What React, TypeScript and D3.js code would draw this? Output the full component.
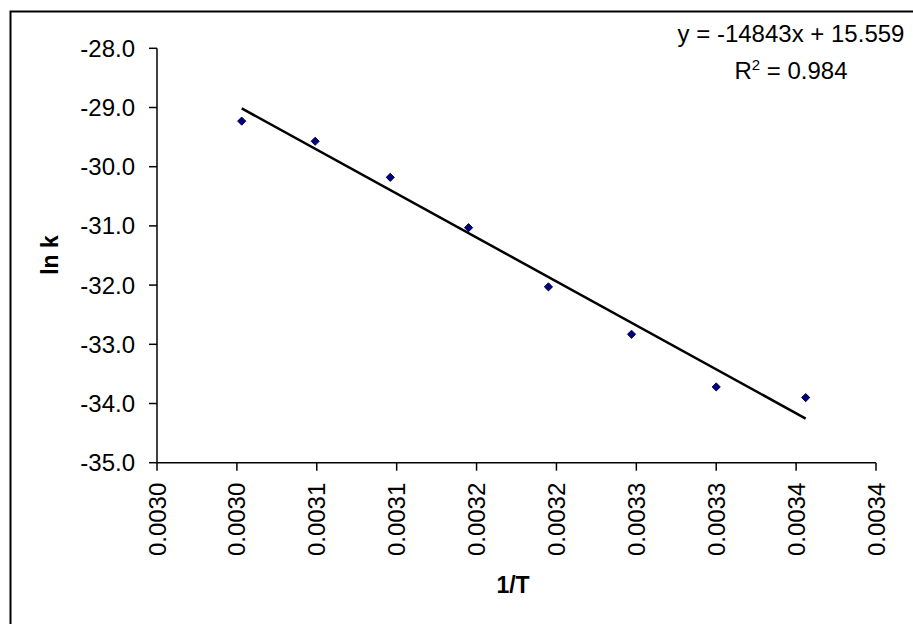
import React, { useRef, useEffect } from "react";
import * as d3 from "d3";

// 1/T (K^-1) and ln k readings
const invT = [0.003003, 0.003049, 0.003096, 0.003145, 0.003195, 0.003247, 0.0033, 0.003356];
const lnK = [-29.23, -29.57, -30.18, -31.03, -32.03, -32.83, -33.72, -33.9];

const xTicks = [0.00295, 0.003, 0.00305, 0.0031, 0.00315, 0.0032, 0.00325, 0.0033, 0.00335, 0.0034];
const xTickLabels = ["0.0030", "0.0030", "0.0031", "0.0031", "0.0032", "0.0032", "0.0033", "0.0033", "0.0034", "0.0034"];
const yTicks = [-28, -29, -30, -31, -32, -33, -34, -35];

const slope = -14843;
const intercept = 15.559;
const rSquared = "0.984";

const FONT = "'Liberation Sans', Arial, sans-serif";

export default function App() {
  const ref = useRef<SVGSVGElement>(null);

  useEffect(() => {
    const svg = d3.select(ref.current);
    svg.selectAll("*").remove();

    const x = d3.scaleLinear().domain([0.00295, 0.0034]).range([157, 876]);
    const y = d3.scaleLinear().domain([-35, -28]).range([462.7, 48.3]);

    // chart area border (runs off the right / bottom edge)
    svg.append("rect")
      .attr("x", 10.5).attr("y", 11.5)
      .attr("width", 930).attr("height", 640)
      .attr("fill", "#fff")
      .attr("stroke", "#000")
      .attr("stroke-width", 2);

    // y axis
    const gy = svg.append("g");
    gy.append("line")
      .attr("x1", x(0.00295)).attr("x2", x(0.00295))
      .attr("y1", y(-28)).attr("y2", y(-35))
      .attr("stroke", "#000").attr("stroke-width", 1.5);
    gy.selectAll("line.tick")
      .data(yTicks)
      .enter()
      .append("line")
      .attr("class", "tick")
      .attr("x1", x(0.00295) - 8).attr("x2", x(0.00295))
      .attr("y1", d => y(d)).attr("y2", d => y(d))
      .attr("stroke", "#000").attr("stroke-width", 1.5);
    gy.selectAll("text")
      .data(yTicks)
      .enter()
      .append("text")
      .attr("x", x(0.00295) - 22)
      .attr("y", d => y(d))
      .attr("text-anchor", "end")
      .attr("dominant-baseline", "central")
      .style("font-family", FONT)
      .style("font-size", "24px")
      .text(d => d.toFixed(1));

    // x axis
    const gx = svg.append("g");
    gx.append("line")
      .attr("x1", x(0.00295)).attr("x2", x(0.0034))
      .attr("y1", y(-35)).attr("y2", y(-35))
      .attr("stroke", "#000").attr("stroke-width", 1.5);
    gx.selectAll("line.tick")
      .data(xTicks)
      .enter()
      .append("line")
      .attr("class", "tick")
      .attr("x1", d => x(d)).attr("x2", d => x(d))
      .attr("y1", y(-35)).attr("y2", y(-35) + 8)
      .attr("stroke", "#000").attr("stroke-width", 1.5);
    gx.selectAll("text")
      .data(xTicks)
      .enter()
      .append("text")
      .attr("transform", d => `translate(${x(d)},${y(-35) + 20}) rotate(-90)`)
      .attr("text-anchor", "end")
      .attr("dominant-baseline", "central")
      .style("font-family", FONT)
      .style("font-size", "24px")
      .text((d, i) => xTickLabels[i]);

    // axis titles
    svg.append("text")
      .attr("transform", "translate(50,255) rotate(-90)")
      .attr("text-anchor", "middle")
      .attr("dominant-baseline", "central")
      .style("font-family", FONT)
      .style("font-size", "23px")
      .style("font-weight", "bold")
      .text("ln k");
    svg.append("text")
      .attr("x", 513).attr("y", 593)
      .attr("text-anchor", "middle")
      .style("font-family", FONT)
      .style("font-size", "23px")
      .style("font-weight", "bold")
      .text("1/T");

    // linear trendline
    const x0 = d3.min(invT) as number;
    const x1 = d3.max(invT) as number;
    svg.append("line")
      .attr("x1", x(x0)).attr("y1", y(slope * x0 + intercept))
      .attr("x2", x(x1)).attr("y2", y(slope * x1 + intercept))
      .attr("stroke", "#000")
      .attr("stroke-width", 2.5);

    // data markers
    const diamond = d3.symbol().type(d3.symbolDiamond2).size(42);
    svg.selectAll("path.pt")
      .data(invT)
      .enter()
      .append("path")
      .attr("class", "pt")
      .attr("d", diamond)
      .attr("transform", (d, i) => `translate(${x(d)},${y(lnK[i])})`)
      .attr("fill", "#000080")
      .attr("stroke", "#000040")
      .attr("stroke-width", 1);

    // trendline label
    const eq = svg.append("g")
      .style("font-family", FONT)
      .style("font-size", "24px");
    eq.append("text")
      .attr("x", 791).attr("y", 42)
      .attr("text-anchor", "middle")
      .text(`y = ${slope}x + ${intercept}`);
    const r2 = eq.append("text")
      .attr("x", 791).attr("y", 79)
      .attr("text-anchor", "middle");
    r2.append("tspan").text("R");
    r2.append("tspan").attr("dy", -9).style("font-size", "15px").text("2");
    r2.append("tspan").attr("dy", 9).text(` = ${rSquared}`);
  }, []);

  return (
    <svg
      ref={ref}
      width={913}
      height={624}
      style={{ position: "absolute", left: 0, top: 0, background: "#fff" }}
    />
  );
}
